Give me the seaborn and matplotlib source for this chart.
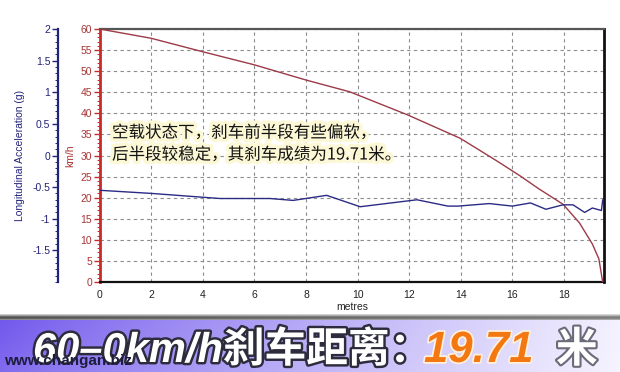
import numpy as np
import matplotlib
matplotlib.use("Agg")
import matplotlib.pyplot as plt
import matplotlib.patheffects as pe
from matplotlib.ticker import MultipleLocator, FixedLocator, FixedFormatter
import seaborn as sns

# ---------------- data ----------------
speed_dist = [0, 2, 4, 6, 8, 9.7, 11.95, 13.97, 14.74, 15.4, 16.29, 17.0, 17.97, 18.6, 19.1, 19.35, 19.5]
speed_kmh = [60, 57.8, 54.6, 51.5, 47.9, 45.1, 39.6, 34.1, 31.2, 28.7, 25.2, 22.2, 18.4, 14.0, 9.0, 5.5, 0]

acc_dist = [0, 2.03, 4.0, 4.67, 6.6, 7.5, 8.8, 10.1, 11.3, 12.3, 13.5, 13.9, 15.1, 16.0,
            16.7, 17.3, 17.96, 18.35, 18.8, 19.1, 19.45, 19.5]
acc_g = [-0.55, -0.60, -0.66, -0.68, -0.68, -0.71, -0.63, -0.81, -0.75, -0.70, -0.80, -0.80,
         -0.76, -0.80, -0.75, -0.85, -0.78, -0.78, -0.90, -0.83, -0.87, -0.70]

x_ticks = [0, 2, 4, 6, 8, 10, 12, 14, 16, 18]
x_tick_labels = ["0", "2", "4", "6", "8", "10", "12", "14", "16", "18"]
kmh_ticks = [0, 5, 10, 15, 20, 25, 30, 35, 40, 45, 50, 55, 60]
kmh_tick_labels = ["0", "5", "10", "15", "20", "25", "30", "35", "40", "45", "50", "55", "60"]
g_ticks = [2, 1.5, 1, 0.5, 0, -0.5, -1, -1.5]
g_tick_labels = ["2", "1.5", "1", "0.5", "0", "-0.5", "-1", "-1.5"]

x_label = "metres"
kmh_label = "km/h"
g_label = "Longitudinal Acceleration (g)"
note_line1 = "空载状态下，刹车前半段有些偏软，"
note_line2 = "后半段较稳定，其刹车成绩为19.71米。"
banner_part1 = "60–0km/h刹车距离："
banner_part2 = "19.71"
banner_part3 = "米"
watermark = "www.changan.biz"

# ---------------- style ----------------
sns.set_style("white")
plt.rcParams["font.family"] = ["Liberation Sans", "Noto Sans CJK SC", "DejaVu Sans"]

W, H = 620, 372
fig = plt.figure(figsize=(6.2, 3.72), dpi=100)
fig.patch.set_facecolor("white")


def fx(px):
    return px / W


def fy(py):
    return 1 - py / H


RED_AX = "#c92a2a"
RED_TXT = "#a83434"
NAVY = "#23237a"
CURVE_RED = "#9c3a48"
CURVE_BLUE = "#2b2b86"

# ---------------- banner ----------------
bh = 58
bax = fig.add_axes([0, 0, 1, bh / H])
cols = np.linspace(0, 1, W)
t = cols ** 0.9
left = np.array([112, 86, 236]) / 255
right = np.array([244, 242, 255]) / 255
row = left[None, :] * (1 - t[:, None]) + right[None, :] * t[:, None]
img = np.tile(row[None, :, :], (bh, 1, 1))
vy = np.linspace(0, 1, bh)[:, None, None]
img = img * (1 - 0.12 * vy) + 0.12 * vy  # slightly lighter at bottom
shade = [0.80, 0.62, 0.42, 0.32, 0.38, 0.55]
for i, s in enumerate(shade):
    img[i, :, :] = s + (1 - s) * 0.25 * cols[:, None]
bax.imshow(img, aspect="auto", extent=[0, 1, 0, 1], interpolation="bilinear")
bax.set_axis_off()

big_fs = 30
base_y = 362
stroke_dark = [pe.withStroke(linewidth=3.5, foreground="#2c2c3c")]
fig.text(fx(33), fy(base_y), banner_part1, fontsize=big_fs, fontweight="bold",
         fontstyle="italic", color="white", va="baseline", ha="left",
         path_effects=stroke_dark, zorder=5)
fig.text(fx(424), fy(base_y), banner_part2, fontsize=big_fs + 1.5, fontweight="bold",
         fontstyle="italic", color="#f47812", va="baseline", ha="left",
         path_effects=[pe.withStroke(linewidth=2.5, foreground="#fff1dc")], zorder=5)
fig.text(fx(556), fy(base_y), banner_part3, fontsize=big_fs, fontweight="bold",
         color="white", va="baseline", ha="left",
         path_effects=[pe.withStroke(linewidth=3, foreground="#6a6a78")], zorder=5)
fig.text(fx(4), fy(361), watermark, fontsize=11, fontweight="bold",
         color="#1c1c3e", va="center", ha="left", family=["Liberation Sans"], zorder=20)

# ---------------- main chart ----------------
ax = fig.add_axes([fx(99.6), fy(282), fx(604 - 99.6), (282 - 29) / H])
sns.lineplot(x=speed_dist, y=speed_kmh, ax=ax, color=CURVE_RED, linewidth=1.0,
             errorbar=None, zorder=3)
ax.set_xlim(0, 19.55)
ax.set_ylim(0, 60)

ax.xaxis.set_major_locator(FixedLocator(x_ticks))
ax.xaxis.set_major_formatter(FixedFormatter(x_tick_labels))
ax.xaxis.set_minor_locator(MultipleLocator(0.5))
ax.yaxis.set_major_locator(FixedLocator(kmh_ticks))
ax.yaxis.set_major_formatter(FixedFormatter(kmh_tick_labels))
ax.yaxis.set_minor_locator(MultipleLocator(1))

ax.grid(True, which="major", linestyle=(0, (3, 3)), color="#8c8c8c", linewidth=0.8)
ax.set_axisbelow(True)

ax.tick_params(axis="x", which="major", direction="inout", length=5, width=1,
               color="#222222", labelsize=7.5, labelcolor="#222222", pad=3)
ax.tick_params(axis="x", which="minor", direction="in", length=2.5, width=0.8, color="#444444")
ax.tick_params(axis="y", which="major", direction="out", length=4, width=1,
               color=RED_AX, labelsize=7.5, labelcolor=RED_TXT, pad=1.5)
ax.tick_params(axis="y", which="minor", direction="out", length=2, width=0.7, color=RED_AX)

for side, col, lw in [("left", RED_AX, 2.0), ("bottom", "#111111", 1.6),
                      ("top", "#555555", 1.6), ("right", "#111111", 2.0)]:
    ax.spines[side].set_visible(True)
    ax.spines[side].set_color(col)
    ax.spines[side].set_linewidth(lw)

ax.set_xlabel(x_label, fontsize=7.5, color="#222222", labelpad=2)
ax.set_ylabel(kmh_label, fontsize=7.5, color=RED_TXT, labelpad=4)

# acceleration axis on a separate offset left spine
ax2 = ax.twinx()
sns.lineplot(x=acc_dist, y=acc_g, ax=ax2, color=CURVE_BLUE, linewidth=1.0,
             errorbar=None, zorder=2)
ax2.set_ylim(-2, 2)
ax2.set_xlim(0, 19.55)
ax2.yaxis.tick_left()
ax2.yaxis.set_label_position("left")
ax2.spines["left"].set_position(("outward", 30))
ax2.spines["left"].set_visible(True)
ax2.spines["left"].set_color(NAVY)
ax2.spines["left"].set_linewidth(1.6)
for side in ["right", "top", "bottom"]:
    ax2.spines[side].set_visible(False)
ax2.yaxis.set_major_locator(FixedLocator(g_ticks))
ax2.yaxis.set_major_formatter(FixedFormatter(g_tick_labels))
ax2.yaxis.set_minor_locator(MultipleLocator(0.1))
ax2.tick_params(axis="y", which="major", direction="out", length=4, width=1,
                color=NAVY, labelsize=7.5, labelcolor=NAVY, pad=1.5)
ax2.tick_params(axis="y", which="minor", direction="out", length=2, width=0.7, color=NAVY)
ax2.set_ylabel(g_label, fontsize=7.5, color=NAVY, labelpad=5)
ax2.grid(False)

# annotation
glow = [pe.withStroke(linewidth=5, foreground="#fcf8d6")]
fig.text(fx(112), fy(133), note_line1, fontsize=11.9, color="#111111", va="center",
         ha="left", family=["Noto Sans CJK SC", "DejaVu Sans"], path_effects=glow, zorder=10)
fig.text(fx(112), fy(155), note_line2, fontsize=11.9, color="#111111", va="center",
         ha="left", family=["Noto Sans CJK SC", "DejaVu Sans"], path_effects=glow, zorder=10)

fig.savefig("out.png", dpi=100, facecolor="white")
